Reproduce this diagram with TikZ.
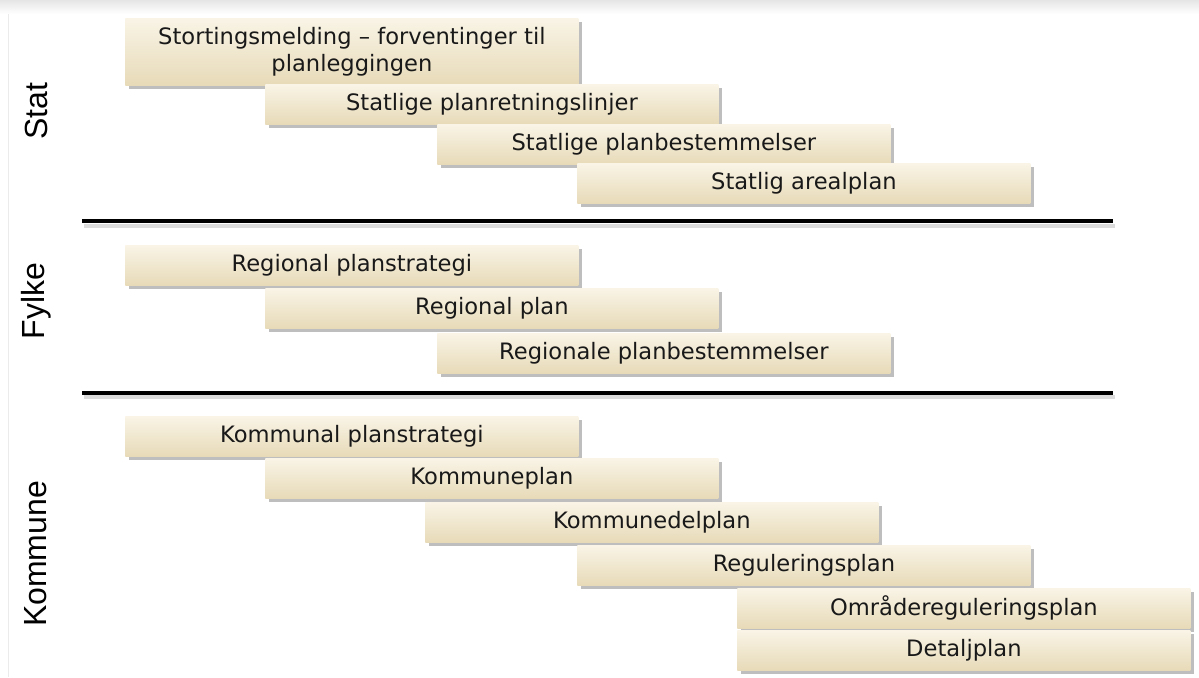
\documentclass[tikz,border=0pt]{standalone}
\usepackage{fontspec}
\setmainfont{DejaVu Sans}
\newfontfamily\labelfont{Liberation Sans}
\usetikzlibrary{shadows}
\definecolor{boxtop}{HTML}{F9F4E6}
\definecolor{boxbot}{HTML}{E7DAB8}
\definecolor{shad}{HTML}{8A8A8A}
\tikzset{
  planbox/.style={rectangle, anchor=north west, minimum width=226.5pt, minimum height=20pt,
    inner sep=1pt, top color=boxtop, bottom color=boxbot, draw=none,
    font=\fontsize{11.3}{12.5}\selectfont, text=black!90,
    drop shadow={shadow xshift=1.8pt, shadow yshift=-1.8pt, fill=shad, opacity=0.55}},
  levellabel/.style={rotate=90, font=\labelfont\fontsize{16}{18}\selectfont, text=black},
  divider/.style={line width=1.6pt, black}
}
\begin{document}
\begin{tikzpicture}[x=0.5pt, y=-0.5pt]
\useasboundingbox (0,0) rectangle (1199,677);
\fill[white] (0,0) rectangle (1199,677);
\shade[top color=black!10, bottom color=white] (0,0) rectangle (1199,14);
\draw[black!8, line width=0.5pt] (8,14) -- (8,677);
% Stat
\node[planbox, minimum height=33.5pt, align=center, font=\fontsize{11.3}{13.8}\selectfont] (s1) at (125,18) {Stortingsmelding -- forventinger til\\planleggingen};
\node[planbox] (s2) at (265,84) {Statlige planretningslinjer};
\node[planbox] (s3) at (437,124) {Statlige planbestemmelser};
\node[planbox] (s4) at (577,163) {Statlig arealplan};
% Fylke
\node[planbox] (f1) at (125,245) {Regional planstrategi};
\node[planbox] (f2) at (265,288) {Regional plan};
\node[planbox] (f3) at (437,333) {Regionale planbestemmelser};
% Kommune
\node[planbox] (k1) at (125,416) {Kommunal planstrategi};
\node[planbox] (k2) at (265,458) {Kommuneplan};
\node[planbox] (k3) at (425,502) {Kommunedelplan};
\node[planbox] (k4) at (577,545) {Reguleringsplan};
\node[planbox] (k5) at (737,588) {Områdereguleringsplan};
\node[planbox] (k6) at (737,630) {Detaljplan};
% dividers
\draw[shad!50, line width=2pt, opacity=0.6] (84,226) -- (1115,226);
\draw[shad!50, line width=2pt, opacity=0.6] (84,397) -- (1115,397);
\draw[divider] (82,221) -- (1113,221);
\draw[divider] (82,393) -- (1113,393);
% labels
\node[levellabel] (lstat) at (36,111) {Stat};
\node[levellabel] (lfylke) at (36,301) {Fylke};
\node[levellabel] (lkommune) at (36,554) {Kommune};
\end{tikzpicture}
\end{document}
